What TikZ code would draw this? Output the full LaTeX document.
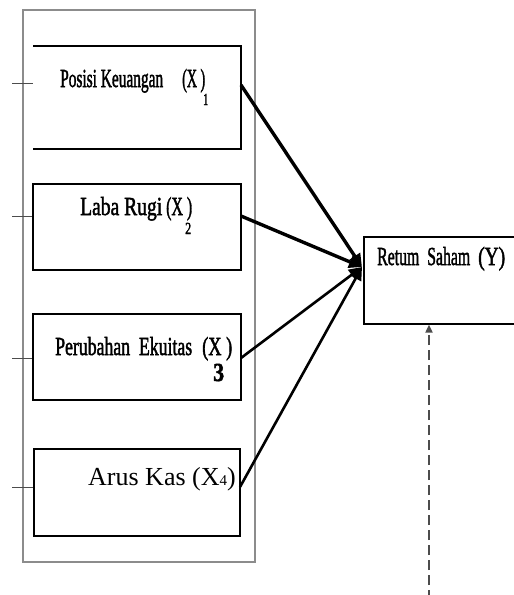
\documentclass[tikz,border=0pt]{standalone}
\usepackage{fontspec}
\setmainfont{Liberation Serif}
\newfontfamily\condf[FakeBold=2]{Liberation Serif}
\usetikzlibrary{arrows.meta}
\newcommand{\hfitw}[2]{\resizebox{#1}{\height}{#2}}
\tikzset{
  outerbox/.style={draw=black!45, line width=1.6pt},
  vbox/.style={draw=black, line width=1.6pt},
  tick/.style={draw=black!70, line width=0.9pt},
  lbl/.style={inner sep=0pt, anchor=base west, font=\condf\fontsize{26}{26}\selectfont},
  bigl/.style={inner sep=0pt, anchor=base west, font=\fontsize{26}{26}\selectfont},
  subl/.style={inner sep=0pt, anchor=base west, font=\condf\fontsize{17}{17}\selectfont},
  arrA/.style={line width=3.4pt, -{Triangle[length=13pt,width=12pt]}},
  arrB/.style={line width=2.6pt, -{Triangle[length=13pt,width=12pt]}},
  dasharr/.style={draw=black!70, line width=1.8pt, dash pattern=on 10pt off 5pt, -{Triangle[length=8pt,width=7pt]}}
}
\begin{document}
\begin{tikzpicture}[x=1pt,y=-1pt]
\useasboundingbox (0,0) rectangle (514,595);
\clip (0,0) rectangle (514,595);
% outer frame
\node[outerbox, minimum width=232pt, minimum height=552pt, inner sep=0pt] (frame) at (139,286) {};
% box 1 (no left edge)
\coordinate (b1nw) at (33,46);
\coordinate (b1se) at (241,149);
\draw[vbox] (b1nw) -- (b1nw -| b1se) -- (b1se) -- (b1se -| b1nw);
% boxes 2-4
\node[vbox, minimum width=208pt, minimum height=86pt, inner sep=0pt] (box2) at (137,227) {};
\node[vbox, minimum width=208pt, minimum height=86pt, inner sep=0pt] (box3) at (137,357) {};
\node[vbox, minimum width=206pt, minimum height=87pt, inner sep=0pt] (box4) at (137,492.5) {};
% Y box
\node[vbox, minimum width=154pt, minimum height=87pt, inner sep=0pt, anchor=north west] (ybox) at (363,236) {};
% left ticks
\coordinate (k1) at (12,83);
\coordinate (k2) at (12,216);
\coordinate (k3) at (12,358);
\coordinate (k4) at (12,487);
\draw[tick] (k1) -- (k1 -| b1nw);
\draw[tick] (k2) -- (k2 -| box2.west);
\draw[tick] (k3) -- (k3 -| box3.west);
\draw[tick] (k4) -- (k4 -| box4.west);
% labels
\node[lbl] (l1) at (60,87) {\hfitw{103pt}{Posisi Keuangan}};
\node[lbl] (l1x) at (182,87) {\hfitw{23pt}{(X )}};
\node[subl] (l1s) at (203,105) {\hfitw{5pt}{1}};
\node[lbl] (l2) at (80,215) {\hfitw{82pt}{Laba Rugi}};
\node[lbl] (l2x) at (166,215) {\hfitw{26pt}{(X )}};
\node[subl] (l2s) at (185,234) {\hfitw{6pt}{2}};
\node[lbl] (l3) at (55,355) {\hfitw{137pt}{Perubahan\ \ Ekuitas}};
\node[lbl] (l3x) at (202,355) {\hfitw{30pt}{(X )}};
\node[lbl] (l3s) at (213,381) {\hfitw{11pt}{\bfseries 3}};
\node[bigl] (l4) at (88,485) {Arus Kas (X{\fontsize{15}{15}\selectfont 4})};
\node[lbl] (ly) at (377,265) {\hfitw{93pt}{Retum\ \ Saham}};
\node[lbl] (lyy) at (478,265) {\hfitw{27pt}{(Y)}};
% connectors
\coordinate (s1) at (241,85);
\coordinate (s2) at (241,216);
\coordinate (s3) at (241,358);
\coordinate (s4) at (240,487);
\coordinate (tgt) at (362,267);
\coordinate (dbot) at (429,600);
\draw[arrA] (s1) -- (tgt);
\draw[arrA] (s2) -- (tgt);
\draw[arrB] (s3) -- (tgt);
\draw[arrB] (s4) -- (tgt);
\draw[dasharr] (dbot) -- (dbot |- ybox.south);
\end{tikzpicture}
\end{document}
